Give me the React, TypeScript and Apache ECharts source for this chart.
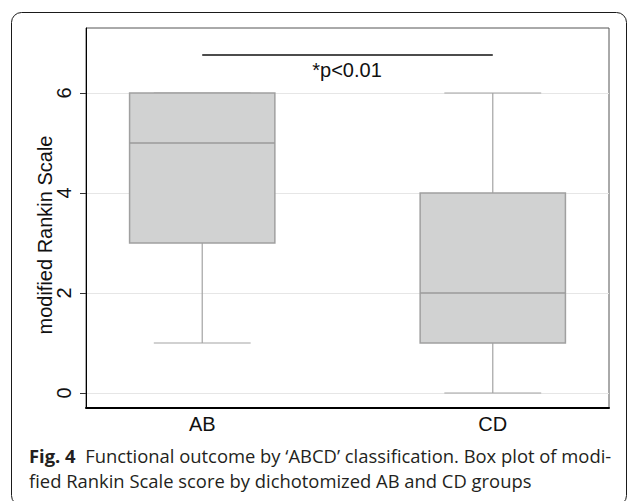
import React, { useEffect, useRef } from "react";
import * as echarts from "echarts";

const categories = ["AB", "CD"];
const catPositions = [1, 2];
const mins = [1, 0];
const q1s = [3, 1];
const medians = [5, 2];
const q3s = [6, 4];
const maxs = [6, 6];
const yTicks = [0, 2, 4, 6];
const sigLevel = 6.76;
const sigText = "*p<0.01";
const axisTitle = "modified Rankin Scale";
const captionBold = "Fig. 4";
const captionLine1 = "Functional outcome by \u2018ABCD\u2019 classification. Box plot of modi-";
const captionLine2 = "fied Rankin Scale score by dichotomized AB and CD groups";

export default function App() {
  const ref = useRef<HTMLDivElement>(null);
  useEffect(() => {
    if (!ref.current) return;
    const chart = echarts.init(ref.current, undefined, { renderer: "svg" });
    const boxData = categories.map((c, i) => [
      catPositions[i],
      mins[i],
      q1s[i],
      medians[i],
      q3s[i],
      maxs[i],
    ]);
    const font = "Liberation Sans, Arial, sans-serif";
    const capFont = "Open Sans, Noto Sans, sans-serif";
    const option: any = {
      animation: false,
      backgroundColor: "#ffffff",
      grid: {
        left: 86,
        top: 28,
        width: 523,
        height: 380,
        show: true,
        borderColor: "#555555",
        borderWidth: 1,
        backgroundColor: "transparent",
      },
      xAxis: {
        type: "value",
        min: 0.6,
        max: 2.4,
        axisLine: { show: true, onZero: false, lineStyle: { color: "#000000", width: 2 } },
        axisTick: { show: false },
        splitLine: { show: false },
        axisLabel: {
          customValues: catPositions,
          formatter: (v: number) => {
            const idx = catPositions.indexOf(v);
            return idx >= 0 ? categories[idx] : "";
          },
          fontSize: 20,
          fontFamily: font,
          color: "#111111",
          margin: 6,
        },
      },
      yAxis: {
        type: "value",
        min: -0.3,
        max: 7.3,
        splitNumber: 4,
        axisLine: { show: true, onZero: false, lineStyle: { color: "#000000", width: 1 } },
        axisTick: {
          show: true,
          length: 6,
          customValues: yTicks,
          lineStyle: { color: "#333333" },
        },
        splitLine: { show: true, lineStyle: { color: "#e6e6e6", width: 1 } },
        axisLabel: {
          customValues: yTicks,
          rotate: 90,
          fontSize: 20,
          fontFamily: font,
          color: "#111111",
          margin: 12,
        },
      },
      series: [
        {
          type: "custom",
          data: boxData,
          renderItem: (params: any, api: any) => {
            const x = api.value(0);
            const mn = api.value(1);
            const q1 = api.value(2);
            const md = api.value(3);
            const q3 = api.value(4);
            const mx = api.value(5);
            const unit = api.size([1, 0])[0];
            const bw = unit * 0.5;
            const cw = unit / 3;
            const pMin = api.coord([x, mn]);
            const pQ1 = api.coord([x, q1]);
            const pMd = api.coord([x, md]);
            const pQ3 = api.coord([x, q3]);
            const pMax = api.coord([x, mx]);
            const cx = pMin[0];
            const lineStyle = { stroke: "#a3a3a3", lineWidth: 1.2 };
            return {
              type: "group",
              children: [
                { type: "line", shape: { x1: cx, y1: pMin[1], x2: cx, y2: pQ1[1] }, style: lineStyle },
                { type: "line", shape: { x1: cx, y1: pQ3[1], x2: cx, y2: pMax[1] }, style: lineStyle },
                { type: "line", shape: { x1: cx - cw / 2, y1: pMin[1], x2: cx + cw / 2, y2: pMin[1] }, style: lineStyle },
                { type: "line", shape: { x1: cx - cw / 2, y1: pMax[1], x2: cx + cw / 2, y2: pMax[1] }, style: lineStyle },
                {
                  type: "rect",
                  shape: { x: cx - bw / 2, y: pQ3[1], width: bw, height: pQ1[1] - pQ3[1] },
                  style: { fill: "#d1d2d2", stroke: "#a0a0a0", lineWidth: 1.5 },
                },
                { type: "line", shape: { x1: cx - bw / 2, y1: pMd[1], x2: cx + bw / 2, y2: pMd[1] }, style: { stroke: "#9a9a9a", lineWidth: 1.5 } },
              ],
            };
          },
          z: 3,
        },
        {
          type: "line",
          data: [
            [catPositions[0], sigLevel],
            [catPositions[1], sigLevel],
          ],
          symbol: "none",
          lineStyle: { color: "#111111", width: 1.5 },
          z: 4,
        },
      ],
      graphic: [
        {
          type: "rect",
          shape: { x: 11.5, y: 12.5, width: 615, height: 493, r: 10 },
          style: { fill: "none", stroke: "#1a1a1a", lineWidth: 1 },
          silent: true,
        },
        {
          type: "text",
          x: 347,
          y: 70,
          style: {
            text: sigText,
            font: `20px ${font}`,
            fill: "#111111",
            textAlign: "center",
            textVerticalAlign: "middle",
          },
        },
        {
          type: "text",
          x: 45,
          y: 235,
          rotation: Math.PI / 2,
          style: {
            text: axisTitle,
            font: `20px ${font}`,
            fill: "#111111",
            textAlign: "center",
            textVerticalAlign: "middle",
          },
        },
        {
          type: "text",
          x: 29,
          y: 455,
          style: {
            text: `{b|${captionBold}}{n|  ${captionLine1}}`,
            textVerticalAlign: "middle",
            rich: {
              b: { font: `bold 18.4px ${capFont}`, fill: "#231f20" },
              n: { font: `18.4px ${capFont}`, fill: "#231f20" },
            },
          },
        },
        {
          type: "text",
          x: 29,
          y: 480,
          style: {
            text: captionLine2,
            font: `18.4px ${capFont}`,
            fill: "#231f20",
            textVerticalAlign: "middle",
          },
        },
      ],
    };
    chart.setOption(option);
    return () => chart.dispose();
  }, []);
  return (
    <div
      ref={ref}
      style={{ position: "fixed", left: 0, top: 0, width: 629, height: 501, background: "#fff" }}
    />
  );
}
